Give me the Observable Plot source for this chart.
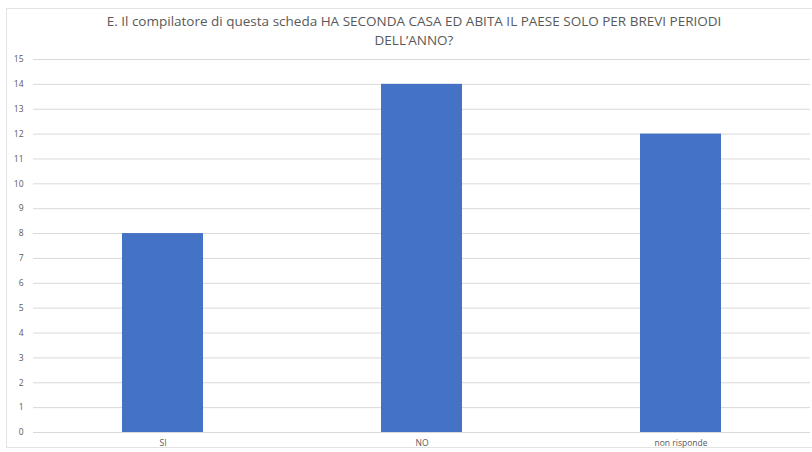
<!DOCTYPE html>
<html>
<head>
<meta charset="utf-8">
<script src="https://cdn.jsdelivr.net/npm/d3@7"></script>
<script src="https://cdn.jsdelivr.net/npm/@observablehq/plot@0.6"></script>
<style>
  body { margin: 0; background: #fff; font-family: "Open Sans", sans-serif; }
  #wrap { position: relative; width: 812px; height: 452px; overflow: hidden; }
  #frame { position: absolute; left: 6px; top: 8px; width: 812px; height: 440px; border: 1px solid #e3e3e3; box-sizing: border-box; }
  #title { position: absolute; left: 0; top: 12px; width: 828px; text-align: center; font-size: 13.5px; line-height: 19px; color: #595959; }
  #chart { position: absolute; left: 0; top: 52px; }
</style>
</head>
<body>
<div id="wrap">
  <div id="frame"></div>
  <div id="title">E. Il compilatore di questa scheda HA SECONDA CASA ED ABITA IL PAESE SOLO PER BREVI PERIODI<br>DELL’ANNO?</div>
  <div id="chart"></div>
</div>
<script>
const categories = ["SI", "NO", "non risponde"];
const values = [8, 14, 12];
const yTicks = [0, 1, 2, 3, 4, 5, 6, 7, 8, 9, 10, 11, 12, 13, 14, 15];

const data = categories.map((c, i) => ({category: c, value: values[i]}));

const plot = Plot.plot({
  width: 812,
  height: 400,
  marginTop: 7,
  marginBottom: 20,
  marginLeft: 33,
  marginRight: 2,
  style: {fontFamily: "Open Sans, sans-serif", fontSize: "8.5px", color: "#595959", background: "transparent"},
  x: {domain: categories, paddingInner: 0.687, paddingOuter: 0.3435, label: null},
  y: {domain: [0, 15], label: null},
  marks: [
    Plot.gridY(yTicks, {stroke: "#d9d9d9", strokeOpacity: 1}),
    Plot.barY(data, {x: "category", y: "value", fill: "#4472C4"}),
    Plot.axisY(yTicks, {tickSize: 0, tickPadding: 10, label: null, fill: "#595959"}),
    Plot.axisX({tickSize: 0, tickPadding: 7, label: null, fill: "#595959"})
  ]
});
document.getElementById("chart").appendChild(plot);
</script>
</body>
</html>
